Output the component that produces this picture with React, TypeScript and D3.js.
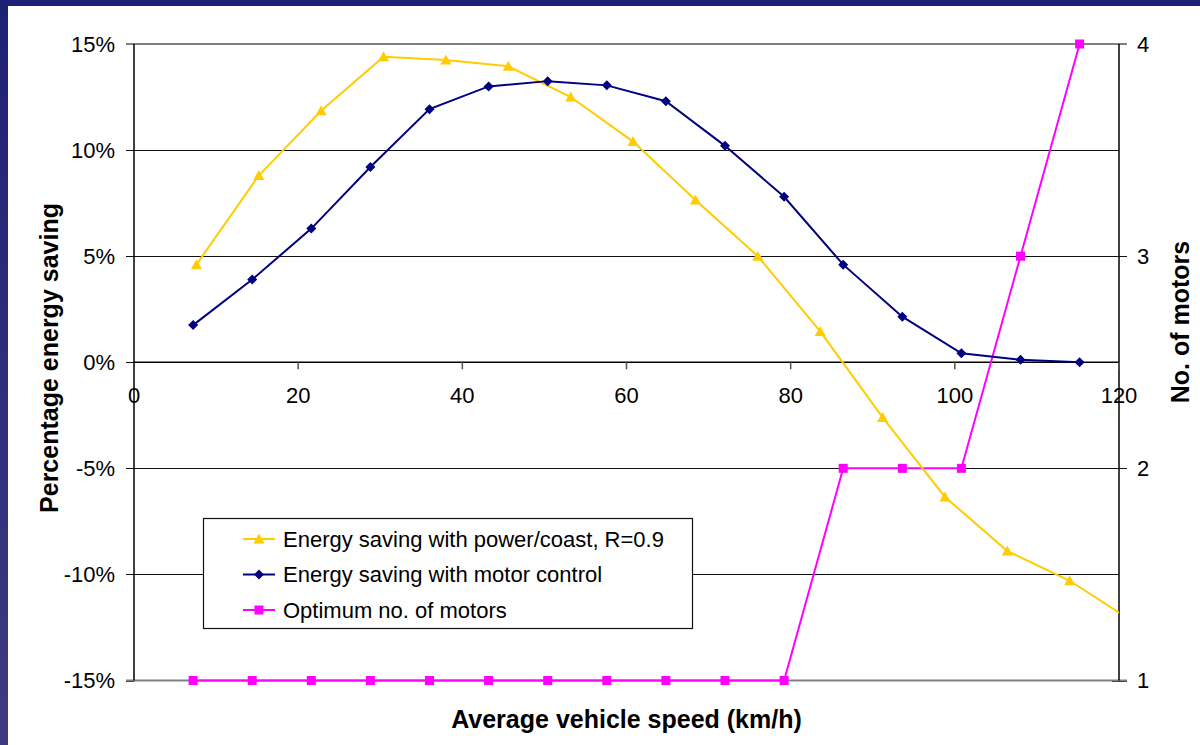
import React from 'react';
import * as d3 from 'd3';

// speeds (km/h) for each series
const coastSpeeds = [7.6, 15.2, 22.8, 30.4, 38.0, 45.6, 53.2, 60.8, 68.4, 76.0, 83.6, 91.2, 98.8, 106.4, 114.0, 121.6];
const coastSaving = [4.6, 8.8, 11.85, 14.4, 14.25, 13.95, 12.5, 10.4, 7.65, 5.0, 1.45, -2.6, -6.35, -8.9, -10.3, -12.2];

const motorSpeeds = [7.2, 14.4, 21.6, 28.8, 36.0, 43.2, 50.4, 57.6, 64.8, 72.0, 79.2, 86.4, 93.6, 100.8, 108.0, 115.2];
const motorSaving = [1.75, 3.9, 6.3, 9.2, 11.93, 13.0, 13.25, 13.05, 12.3, 10.2, 7.8, 4.6, 2.15, 0.42, 0.12, 0.0];
const motorCount = [1, 1, 1, 1, 1, 1, 1, 1, 1, 1, 1, 2, 2, 2, 3, 4];

const xTicks = [0, 20, 40, 60, 80, 100, 120];
const yTicks = [-15, -10, -5, 0, 5, 10, 15];
const y2Ticks = [1, 2, 3, 4];

const legendItems = [
  { label: 'Energy saving with power/coast, R=0.9', color: '#FFCC00', marker: 'triangle' },
  { label: 'Energy saving with motor control', color: '#000080', marker: 'diamond' },
  { label: 'Optimum no. of motors', color: '#FF00FF', marker: 'square' },
];

const W = 1200;
const H = 745;
const plot = { left: 134, right: 1119, top: 44, bottom: 680.5 };
const FONT = '"Liberation Sans", Arial, sans-serif';

// snap a coordinate to the pixel grid so 1px lines stay crisp
const crisp = (v: number) => Math.round(v) + 0.5;

const Marker = ({ type, x, y, color }: { type: string; x: number; y: number; color: string }) => {
  if (type === 'triangle') {
    return <path d={`M${x},${y - 5.5} L${x + 5.5},${y + 4.5} L${x - 5.5},${y + 4.5} Z`} fill={color} />;
  }
  if (type === 'diamond') {
    return <path d={`M${x},${y - 5} L${x + 5},${y} L${x},${y + 5} L${x - 5},${y} Z`} fill={color} />;
  }
  return <rect x={x - 4.5} y={y - 4.5} width={9} height={9} fill={color} />;
};

export default function App() {
  const x = d3.scaleLinear().domain([0, 120]).range([plot.left, plot.right]);
  const y = d3.scaleLinear().domain([-15, 15]).range([plot.bottom, plot.top]);
  const y2 = d3.scaleLinear().domain([1, 4]).range([plot.bottom, plot.top]);

  const coast = coastSpeeds.map((s, i) => [s, coastSaving[i]] as [number, number]);
  const motor = motorSpeeds.map((s, i) => [s, motorSaving[i]] as [number, number]);
  const count = motorSpeeds.map((s, i) => [s, motorCount[i]] as [number, number]);

  const line = d3.line<[number, number]>().x(d => x(d[0])).y(d => y(d[1]));
  const line2 = d3.line<[number, number]>().x(d => x(d[0])).y(d => y2(d[1]));

  const legend = { x: 203, y: 518, w: 489, h: 110 };

  return (
    <div style={{ position: 'fixed', left: 0, top: 0 }}>
      <svg width={W} height={H} style={{ display: 'block' }} fontFamily={FONT}>
        <defs>
          <clipPath id="plotClip">
            <rect x={plot.left} y={plot.top - 10} width={plot.right - plot.left} height={plot.bottom - plot.top + 20} />
          </clipPath>
          <linearGradient id="bg" x1="0" y1="0" x2="0" y2="1">
            <stop offset="0" stopColor="#1d2175" />
            <stop offset="1" stopColor="#3e3a82" />
          </linearGradient>
        </defs>
        <rect x={0} y={0} width={W} height={H} fill="url(#bg)" />
        <rect x={8} y={6} width={W - 8} height={H - 6} fill="#ffffff" />

        {/* gridlines */}
        {yTicks.filter(t => t !== 0 && Math.abs(t) !== 15).map(t => (
          <line key={t} x1={plot.left} x2={plot.right} y1={crisp(y(t))} y2={crisp(y(t))} stroke="#111" strokeWidth={1} />
        ))}

        {/* left axis ticks */}
        {yTicks.map(t => (
          <g key={t}>
            <line x1={plot.left - 8} x2={plot.left} y1={crisp(y(t))} y2={crisp(y(t))} stroke="#111" strokeWidth={1} />
            <text x={115} y={y(t)} dy="0.36em" textAnchor="end" fontSize={22} fill="#000">{`${t}%`}</text>
          </g>
        ))}

        {/* right axis ticks */}
        {y2Ticks.map(t => (
          <g key={t}>
            <line x1={plot.right - 7} x2={plot.right + 8} y1={crisp(y2(t))} y2={crisp(y2(t))} stroke="#111" strokeWidth={1} />
            <text x={1137} y={y2(t)} dy="0.36em" textAnchor="start" fontSize={22} fill="#000">{t}</text>
          </g>
        ))}

        {/* plot border top/bottom */}
        <line x1={plot.left - 8} x2={plot.right + 8} y1={plot.top} y2={plot.top} stroke="#808080" strokeWidth={2} />
        <line x1={plot.left - 8} x2={plot.right + 8} y1={plot.bottom} y2={plot.bottom} stroke="#808080" strokeWidth={2} />

        {/* axes */}
        <line x1={plot.left} x2={plot.left} y1={plot.top} y2={plot.bottom} stroke="#000" strokeWidth={1.5} />
        <line x1={plot.right} x2={plot.right} y1={plot.top} y2={plot.bottom} stroke="#000" strokeWidth={1.5} />
        <line x1={plot.left} x2={plot.right} y1={y(0)} y2={y(0)} stroke="#000" strokeWidth={1.5} />
        {xTicks.map(t => (
          <g key={t}>
            {t > 0 && <line x1={x(t)} x2={x(t)} y1={y(0)} y2={y(0) + 7} stroke="#555" strokeWidth={1.5} />}
            <text x={x(t)} y={403} textAnchor="middle" fontSize={22} fill="#000">{t}</text>
          </g>
        ))}

        {/* series */}
        <g clipPath="url(#plotClip)">
          <path d={line2(count) || ''} fill="none" stroke="#FF00FF" strokeWidth={2} />
          <path d={line(coast) || ''} fill="none" stroke="#FFCC00" strokeWidth={2} />
          <path d={line(motor) || ''} fill="none" stroke="#000080" strokeWidth={2} />
        </g>
        {count.map((d, i) => <Marker key={`c${i}`} type="square" x={x(d[0])} y={y2(d[1])} color="#FF00FF" />)}
        {coast.filter(d => d[0] <= 120).map((d, i) => <Marker key={`p${i}`} type="triangle" x={x(d[0])} y={y(d[1])} color="#FFCC00" />)}
        {motor.map((d, i) => <Marker key={`m${i}`} type="diamond" x={x(d[0])} y={y(d[1])} color="#000080" />)}

        {/* legend */}
        <rect x={legend.x + 0.5} y={legend.y + 0.5} width={legend.w} height={legend.h} fill="#ffffff" stroke="#111" strokeWidth={1.2} />
        {legendItems.map((item, i) => {
          const ly = 539 + i * 35.5;
          return (
            <g key={item.label}>
              <line x1={243} x2={275} y1={ly} y2={ly} stroke={item.color} strokeWidth={2} />
              <Marker type={item.marker} x={259} y={ly} color={item.color} />
              <text x={283} y={ly} dy="0.36em" fontSize={22} fill="#000">{item.label}</text>
            </g>
          );
        })}

        {/* axis titles */}
        <text x={(plot.left + plot.right) / 2} y={728} textAnchor="middle" fontSize={25} fontWeight="bold" fill="#000">
          Average vehicle speed (km/h)
        </text>
        <text transform={`translate(58,358) rotate(-90)`} textAnchor="middle" fontSize={25} fontWeight="bold" fill="#000">
          Percentage energy saving
        </text>
        <text transform={`translate(1189,322) rotate(-90)`} textAnchor="middle" fontSize={25} fontWeight="bold" fill="#000">
          No. of motors
        </text>
      </svg>
    </div>
  );
}
